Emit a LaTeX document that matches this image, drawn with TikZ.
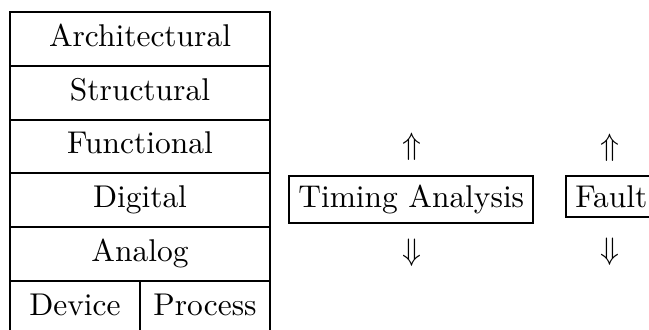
\documentclass[tikz,border=0pt]{standalone}
\usepackage{amssymb}
\begin{document}
\begin{tikzpicture}[x=0.3226pt,y=-0.3226pt,
  txt/.style={font=\fontsize{10.15}{12}\selectfont},
  layer/.style={txt,draw,line width=0.65pt,minimum width={260*0.3226pt},minimum height={53.8*0.3226pt},inner sep=0pt},
  half/.style={layer,minimum width={130*0.3226pt}},
  tool/.style={txt,draw,line width=0.65pt,inner sep=3pt,anchor=base west},
  flow/.style={txt,inner sep=0pt}]
\useasboundingbox (0,0) rectangle (649,330);
\clip (0,0) rectangle (649,330);
% abstraction levels, stacked
\node[layer] (arch) at (140,38.9) {\strut Architectural};
\node[layer] (struct) at (140,92.7) {\strut Structural};
\node[layer] (func) at (140,146.5) {\strut Functional};
\node[layer] (dig) at (140,200.3) {\strut Digital};
\node[layer] (ana) at (140,254.1) {\strut Analog};
\node[half] (dev) at (75,307.9) {\strut Device};
\node[half] (proc) at (205,307.9) {\strut Process};
% analysis tools
\node[tool] (timing) at (288,207.5) {Timing Analysis};
\node[tool] (fault) at (565,207.5) {Fault};
\node[flow] (tup) at (412,147) {$\Uparrow$};
\node[flow] (tdown) at (412,253) {$\Downarrow$};
\node[flow] (fup) at (610,148) {$\Uparrow$};
\node[flow] (fdown) at (610,252) {$\Downarrow$};
\end{tikzpicture}
\end{document}
